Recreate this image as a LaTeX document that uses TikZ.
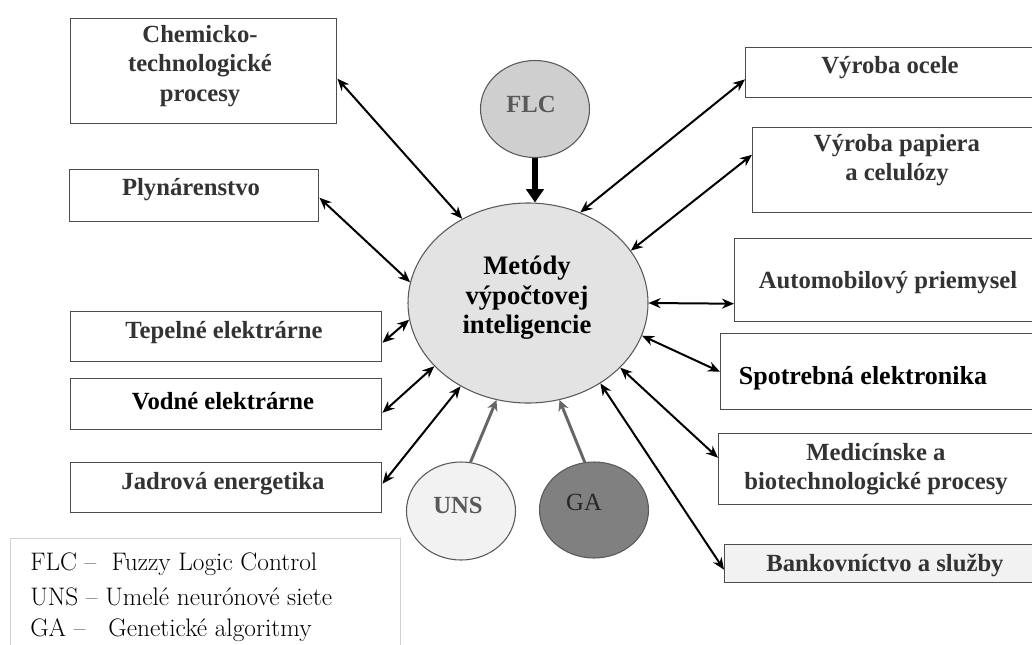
\documentclass[tikz,border=0pt]{standalone}
\usepackage{fontspec}
\newfontfamily\boxfont{Liberation Serif}
\usetikzlibrary{arrows.meta,shapes.geometric}

\begin{document}
\begin{tikzpicture}[x=0.75pt,y=-0.75pt,
  box/.style={draw=black!70, line width=1.1pt, fill=white, inner sep=0pt,
    anchor=north west, rectangle},
  txt/.style={font=\boxfont\bfseries\fontsize{18.5}{22}\selectfont,
    text=black!80, align=center, inner sep=0pt},
  leg/.style={font=\fontsize{19}{22}\selectfont, anchor=west, inner sep=0pt},
  blob/.style={ellipse, draw=black!65, line width=0.8pt, inner sep=0pt},
  dbl/.style={line width=1.5pt, black,
    {Stealth[length=9pt,width=7.5pt]}-{Stealth[length=9pt,width=7.5pt]}},
  feed/.style={line width=2.2pt, black!60, -{Stealth[length=8pt,width=8pt]}},
]
\useasboundingbox (0,0) rectangle (1032,644);
\clip (0,0) rectangle (1032,644);

% legend frame
\node[draw=black!18, line width=0.9pt, anchor=north west, inner sep=0pt,
  minimum width=292.5pt, minimum height=90pt] (legbox) at (10,538) {};
\node[leg] (leg1) at (30,564) {FLC -- \ Fuzzy Logic Control};
\node[leg] (leg2) at (30,597) {UNS -- Umelé neurónové siete};
\node[leg] (leg3) at (30,630) {GA -- \ \ Genetické algoritmy};

% application areas, left column
\node[box, minimum width=199.5pt, minimum height=78.75pt] (chem) at (70,18) {};
\node[txt] (chemT) at (200,66) {Chemicko-\\technologické\\procesy};
\node[box, minimum width=186.75pt, minimum height=39pt] (plyn) at (69,169) {};
\node[txt] (plynT) at (191,190) {Plynárenstvo};
\node[box, minimum width=233.25pt, minimum height=37.5pt] (tepel) at (70,311) {};
\node[txt] (tepelT) at (224,333) {Tepelné elektrárne};
\node[box, minimum width=233.25pt, minimum height=38.25pt] (vodne) at (70,378) {};
\node[txt, text=black] (vodneT) at (223,401) {Vodné elektrárne};
\node[box, minimum width=233.25pt, minimum height=37.5pt] (jadr) at (70,462) {};
\node[txt] (jadrT) at (223,484) {Jadrová energetika};

% application areas, right column
\node[box, minimum width=225pt, minimum height=37.5pt] (ocele) at (745,47) {};
\node[txt] (oceleT) at (890,68) {Výroba ocele};
\node[box, minimum width=219.75pt, minimum height=63.75pt] (papier) at (752,127) {};
\node[txt] (papierT) at (897,160) {Výroba papiera\\a celulózy};
\node[box, minimum width=233.25pt, minimum height=62.25pt] (auto) at (734,238) {};
\node[txt] (autoT) at (888,283) {Automobilový priemysel};
\node[box, minimum width=243.75pt, minimum height=57pt] (spotr) at (720,333) {};
\node[txt, text=black, font=\boxfont\bfseries\fontsize{19.5}{22}\selectfont] (spotrT) at (863,378) {Spotrebná elektronika};
\node[box, minimum width=245.25pt, minimum height=53.25pt] (med) at (718,433) {};
\node[txt] (medT) at (876,469) {Medicínske a\\biotechnologické procesy};
\node[box, fill=black!5, minimum width=240.75pt, minimum height=28.5pt] (bank) at (724,544) {};
\node[txt] (bankT) at (885,565) {Bankovníctvo a služby};

% central node and the three methods
\node[blob, fill=black!11, minimum width=180pt, minimum height=150pt] (core) at (528,303) {};
\node[txt, text=black, font=\boxfont\bfseries\fontsize{20}{22}\selectfont] (coreT) at (527,298) {Metódy\\výpočtovej\\inteligencie};
\node[blob, fill=black!19, minimum width=81.75pt, minimum height=72.75pt] (flc) at (535,109) {};
\node[txt, text=black!65] (flcT) at (531,104) {FLC};
\node[blob, fill=black!5, minimum width=81.75pt, minimum height=73.5pt] (uns) at (461,511) {};
\node[txt, text=black!65] (unsT) at (458,505) {UNS};
\node[blob, fill=black!50, minimum width=81.75pt, minimum height=72pt] (ga) at (594,510) {};
\node[txt, font=\boxfont\fontsize{18.5}{22}\selectfont, text=black!85] (gaT) at (584,502) {GA};

% method inputs
\draw[line width=4.2pt, -{Triangle[length=10pt,width=13pt]}] (flc.south) -- (flc.south |- core.north);
\draw[feed] (uns.79) -- (core.252);
\draw[feed] (ga.101) -- (core.288);

% two-way links to application areas
\draw[dbl] ([yshift=-5.6pt]chem.east) -- (core.128);
\draw[dbl] ([yshift=-1.5pt]plyn.east) -- (core.170);
\draw[dbl] ([yshift=-4.5pt]tepel.east) -- (core.188);
\draw[dbl] ([yshift=-6.4pt]vodne.east) -- (core.214);
\draw[dbl] ([yshift=3pt]jadr.east) -- (core.231);
\draw[dbl] ([yshift=-5pt]ocele.west) -- (core.60);
\draw[dbl] ([yshift=11.6pt]papier.west) -- (core.27);
\draw[dbl] ([yshift=-17.6pt]auto.west) -- (core.0);
\draw[dbl] (spotr.west) -- (core.344);
\draw[dbl] ([yshift=8.6pt]med.west) -- (core.325);
\draw[dbl] ([yshift=-4.5pt]bank.west) -- (core.312);
\end{tikzpicture}
\end{document}
